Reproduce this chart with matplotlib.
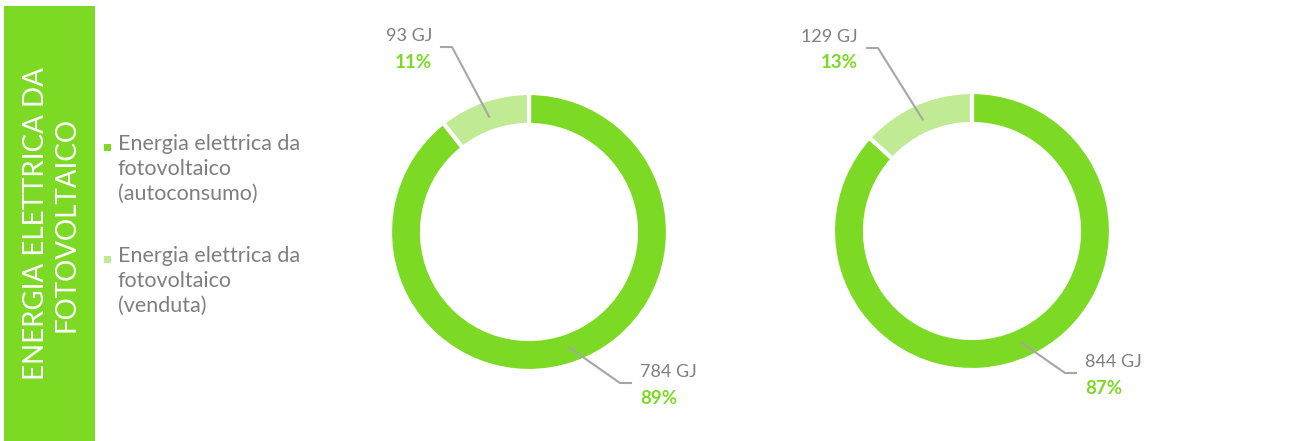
import numpy as np
import matplotlib.pyplot as plt
from matplotlib.patches import Rectangle

# data
series_names = ["Energia elettrica da\nfotovoltaico\n(autoconsumo)",
                "Energia elettrica da\nfotovoltaico\n(venduta)"]
values_left = [784, 93]
values_right = [844, 129]
unit = "GJ"
side_title = "ENERGIA ELETTRICA DA\nFOTOVOLTAICO"

GREEN = "#7CDA24"
LIGHT = "#C0EB94"
GREY = "#7F7F7F"
LINE = "#A6A6A6"
FONT = ["Lato", "DejaVu Sans"]

W, H = 1309, 441
fig = plt.figure(figsize=(W / 100, H / 100), dpi=100)
ax = fig.add_axes([0, 0, 1, 1])


def Y(py):
    return H - py


# side banner
ax.add_patch(Rectangle((4, Y(441)), 91, 435, color=GREEN, lw=0))
ax.text(51, Y(224), side_title, rotation=90, ha="center", va="center",
        color="white", fontsize=20, family=FONT, linespacing=1.2,
        multialignment="center")

# legend
leg_y = [147, 259]
for name, col, y in zip(series_names, [GREEN, LIGHT], leg_y):
    ax.add_patch(Rectangle((104, Y(y) - 3.5), 7, 7, color=col, lw=0))
    ax.text(118, Y(y - 13), name, ha="left", va="top", color=GREY,
            fontsize=15.5, family=FONT, linespacing=1.32)


def donut(cx, cy, vals, labels_pos):
    R, width = 139, 32
    ax.pie(vals, colors=[GREEN, LIGHT], startangle=90, counterclock=False,
           center=(cx, Y(cy)), radius=R,
           wedgeprops=dict(width=width, edgecolor="white", linewidth=3))
    total = sum(vals)
    start = 90.0
    for v, (ly, ha, ex) in zip(vals, labels_pos):
        frac = v / total
        mid = np.deg2rad(start - frac * 360 / 2)
        start -= frac * 360
        r = R - 17
        px, py = cx + r * np.cos(mid), Y(cy) + r * np.sin(mid)
        ax.plot([px, ex, ex + (11 if ha == "left" else -11)],
                [py, Y(ly + 11), Y(ly + 11)], color=LINE, lw=1.5)
        tx = ex + (20 if ha == "left" else -20)
        ax.text(tx, Y(ly), f"{v} {unit}", ha=ha, va="center", color=GREY,
                fontsize=13, family=FONT)
        ax.text(tx, Y(ly + 26), f"{round(frac * 100)}%", ha=ha, va="center",
                color=GREEN, fontsize=13.5, fontweight="bold", family=FONT)


donut(529, 232, values_left,
      [(372, "left", 620), (36, "right", 452)])
donut(972, 231, values_right,
      [(362, "left", 1065), (37, "right", 878)])

ax.set_xlim(0, W)
ax.set_ylim(0, H)
ax.set_aspect("equal")
ax.axis("off")

fig.savefig("out.png", dpi=100)
